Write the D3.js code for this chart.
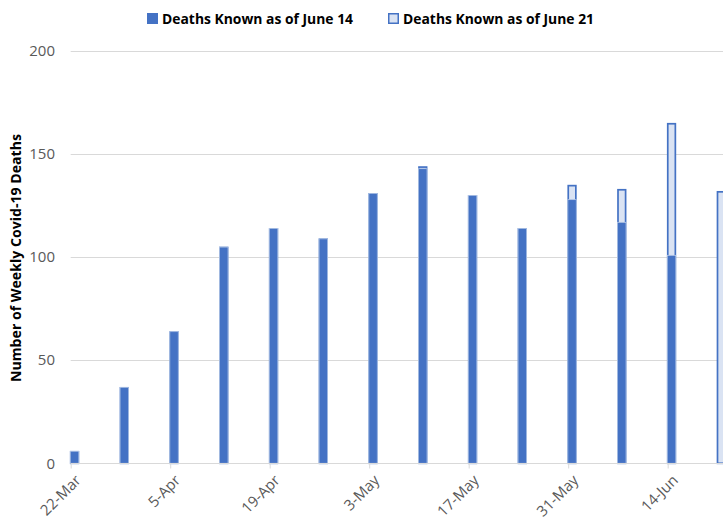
<!DOCTYPE html>
<html>
<head>
<meta charset="utf-8">
<script src="https://cdn.jsdelivr.net/npm/d3@7"></script>
<style>
  html, body { margin: 0; padding: 0; background: #fff; }
  svg { display: block; }
  text { font-family: "Open Sans", "Liberation Sans", sans-serif; }
</style>
</head>
<body>
<script>
// ---- data ----
const weekDates = ["2020-03-22","2020-03-29","2020-04-05","2020-04-12","2020-04-19","2020-04-26",
                   "2020-05-03","2020-05-10","2020-05-17","2020-05-24","2020-05-31","2020-06-07",
                   "2020-06-14","2020-06-21"];
const deathsJune14 = [6, 37, 64, 105, 114, 109, 131, 143, 130, 114, 128, 117, 101, 0];
const deathsJune21 = [6, 37, 64, 105, 114, 109, 131, 144, 130, 114, 135, 133, 165, 132];
const tickDates = ["2020-03-22","2020-04-05","2020-04-19","2020-05-03","2020-05-17","2020-05-31","2020-06-14"];
const yTicks = [0, 50, 100, 150, 200];
const seriesNames = ["Deaths Known as of June 14", "Deaths Known as of June 21"];
const yTitle = "Number of Weekly Covid-19 Deaths";

const W = 723, H = 523;
const parse = d3.timeParse("%Y-%m-%d");
const blue = "#4472C4", light = "#DAE3F3";

const svg = d3.select("body").append("svg").attr("width", W).attr("height", H);

const x = d3.scaleTime()
  .domain([parse(tickDates[0]), parse(tickDates[tickDates.length - 1])])
  .range([70.7, 667.7]);
const y = d3.scaleLinear().domain([0, 200]).range([463.3, 50.7]);

// gridlines
svg.append("g").selectAll("line").data(yTicks.filter(d => d > 0)).join("line")
  .attr("x1", 70.7).attr("x2", W)
  .attr("y1", d => Math.round(y(d)) + 0.5).attr("y2", d => Math.round(y(d)) + 0.5)
  .attr("stroke", "#d9d9d9").attr("stroke-width", 1);

// y axis labels
const yAxis = d3.axisLeft(y).tickValues(yTicks).tickSize(0).tickPadding(0);
const gy = svg.append("g").attr("transform", "translate(55,0)").call(yAxis);
gy.select(".domain").remove();
gy.selectAll("text").attr("font-size", 15).attr("fill", "#595959")
  .style("font-family", "'Open Sans', sans-serif");

// bars
const bw = 9.3, boff = -0.8;
const gBars = svg.append("g");
weekDates.forEach((ds, i) => {
  const d = parse(ds);
  const bx = x(d) + boff;
  // June 21 series (behind)
  gBars.append("rect")
    .attr("x", bx + 0.85).attr("width", bw - 1.7)
    .attr("y", y(deathsJune21[i]) + 0.85).attr("height", y(0) - y(deathsJune21[i]) - 0.85)
    .attr("fill", light).attr("stroke", blue).attr("stroke-width", 1.7);
  // June 14 series (front)
  if (deathsJune14[i] > 0) {
    gBars.append("rect")
      .attr("x", bx + 0.4).attr("width", bw - 0.8)
      .attr("y", y(deathsJune14[i]) + 0.4).attr("height", y(0) - y(deathsJune14[i]) - 0.4)
      .attr("fill", blue).attr("stroke", "#b4c7e7").attr("stroke-width", 0.8);
  }
});

// x axis
const xAxis = d3.axisBottom(x).tickValues(tickDates.map(parse))
  .tickFormat(d3.timeFormat("%-d-%b")).tickSize(5).tickSizeOuter(0);
const gx = svg.append("g").attr("transform", `translate(0,${Math.round(y(0)) + 0.5})`).call(xAxis);
gx.select(".domain").attr("d", `M70.7,0H${W}`).attr("stroke", "#d9d9d9");
gx.selectAll(".tick line").attr("stroke", "#d9d9d9");
gx.selectAll("text")
  .attr("font-size", 15).attr("fill", "#595959")
  .attr("text-anchor", "end")
  .attr("dy", "0.35em").attr("y", 0)
  .attr("transform", "translate(7,14) rotate(-45)")
  .style("font-family", "'Open Sans', sans-serif");

// y title
svg.append("text")
  .attr("transform", `translate(21,258) rotate(-90)`)
  .attr("text-anchor", "middle")
  .attr("font-size", 14).attr("font-weight", "bold").attr("fill", "#000")
  .attr("textLength", 248).attr("lengthAdjust", "spacingAndGlyphs")
  .text(yTitle);

// legend
const legend = [
  { name: seriesNames[0], mx: 147, tx: 162, fill: blue, stroke: blue },
  { name: seriesNames[1], mx: 388, tx: 403, fill: light, stroke: blue }
];
legend.forEach(l => {
  svg.append("rect").attr("x", l.mx + 0.75).attr("y", 13.75).attr("width", 9.5).attr("height", 9.5)
    .attr("fill", l.fill).attr("stroke", l.stroke).attr("stroke-width", 1.5);
  svg.append("text").attr("x", l.tx).attr("y", 23.5)
    .attr("font-size", 15).attr("font-weight", "bold").attr("fill", "#000")
    .attr("textLength", 191).attr("lengthAdjust", "spacingAndGlyphs")
    .text(l.name);
});
</script>
</body>
</html>
